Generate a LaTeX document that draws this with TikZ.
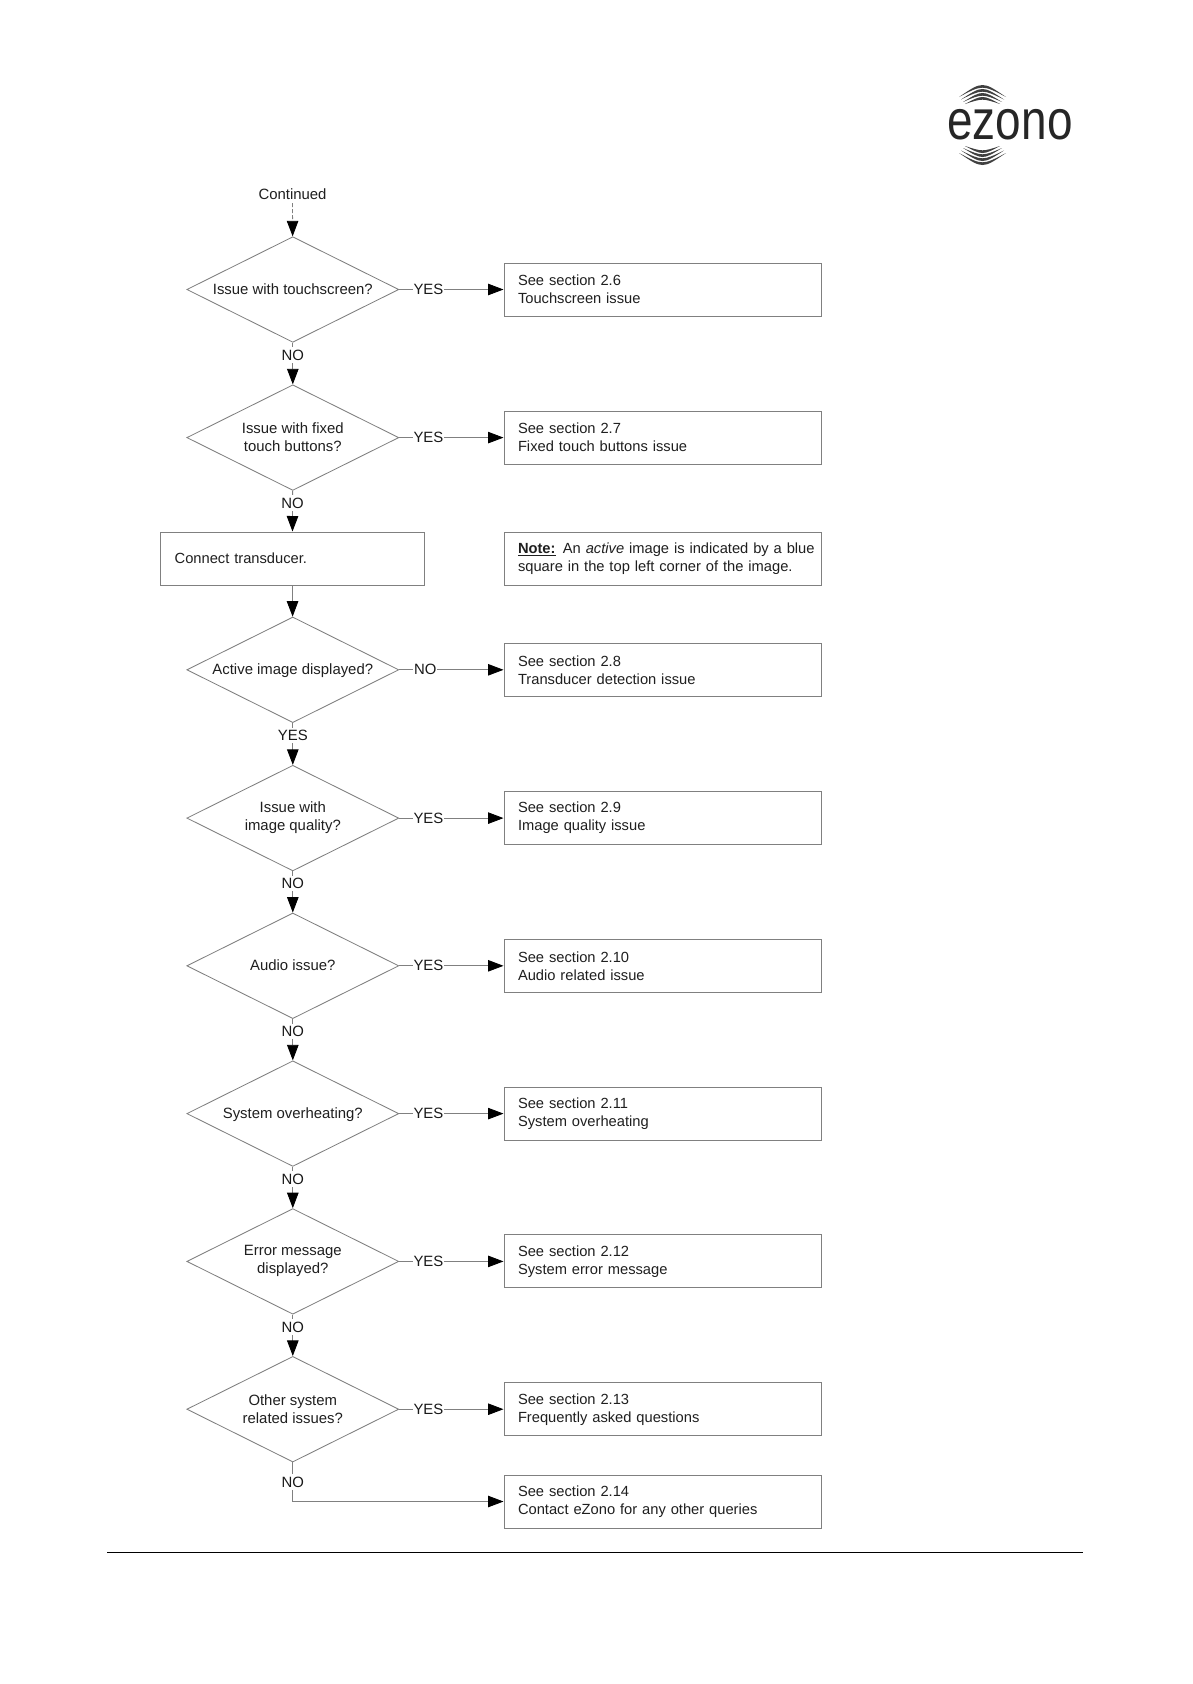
\documentclass[tikz,border=0pt]{standalone}
\usepackage{fontspec}
\usepackage{graphicx}
\setmainfont{Liberation Sans}
\usetikzlibrary{shapes.geometric,arrows.meta}
\definecolor{linegray}{gray}{0.5}
\tikzset{
  qbox/.style={diamond,draw=linegray,line width=0.85pt,minimum width=212pt,minimum height=105.6pt,aspect=2,inner sep=0pt,align=center},
  oneline/.style={text height=13pt,text depth=3.5pt},
  infobox/.style={rectangle,draw=linegray,line width=1pt,minimum width=317.5pt,text width=289.5pt,minimum height=53pt,inner xsep=14pt,inner ysep=0pt,align=left,font=\fontsize{14.7pt}{18pt}\selectfont},
  actionbox/.style={rectangle,draw=linegray,line width=1pt,minimum width=264.5pt,text width=235.5pt,minimum height=53pt,inner xsep=14.5pt,inner ysep=0pt,align=left,font=\fontsize{14.7pt}{18pt}\selectfont},
  flow/.style={draw=linegray,line width=0.85pt,-{Triangle[length=15.5pt,width=11.5pt,color=black]}},
  edgelabel/.style={fill=white,inner xsep=1pt,inner ysep=2.5pt,text=black!90},
  logoarc/.style={fill=black!75,draw=none}
}
\newcommand{\logoband}[4]{% half chord, apex y, end y, thickness
  \fill[logoarc] (982.5-#1,#3) .. controls (982.5,{(4*#2-#3)/3}) .. (982.5+#1,#3)
     .. controls (982.5,{(4*#2-#3)/3+#4}) .. cycle;}
\begin{document}
\begin{tikzpicture}[x=1pt,y=-1pt,font=\fontsize{14.9pt}{18pt}\selectfont,text=black!88]
\useasboundingbox (0,0) rectangle (1192,1684);
\fill[white] (0,0) rectangle (1192,1684);

% logo
\node[anchor=base,inner sep=0pt,text=black!85] (logo) at (1010,139)
  {\scalebox{0.82}[1]{\fontsize{56pt}{56pt}\selectfont ezono}};
\logoband{23.5}{85}{97}{3.6}
\logoband{21.5}{89}{99.5}{3.6}
\logoband{19.5}{93}{102}{3.6}
\logoband{17.5}{97}{104}{3.6}
\logoband{23.5}{165}{153}{-3.6}
\logoband{21.5}{161}{150.5}{-3.6}
\logoband{19.5}{157}{148}{-3.6}
\logoband{17.5}{153}{146}{-3.6}

% start
\node[inner xsep=0pt,inner ysep=3pt] (start) at (292.5,194.5) {Continued};

% questions
\node[qbox,oneline] (q1) at (292.8,289.5) {Issue with touchscreen?};
\node[qbox] (q2) at (292.8,437.6) {Issue with fixed\\touch buttons?};
\node[qbox,oneline] (q3) at (292.8,669.8) {Active image displayed?};
\node[qbox] (q4) at (292.8,818.1) {Issue with\\image quality?};
\node[qbox,oneline] (q5) at (292.8,965.8) {Audio issue?};
\node[qbox,oneline] (q6) at (292.8,1113.6) {System overheating?};
\node[qbox] (q7) at (292.8,1261.4) {Error message\\displayed?};
\node[qbox] (q8) at (292.8,1409.2) {Other system\\related issues?};

% action
\node[actionbox] (conn) at (292.4,558.5) {Connect transducer.};

% outcomes
\node[infobox] (a1) at (662.75,289.5) {See section 2.6\\Touchscreen issue};
\node[infobox] (a2) at (662.75,437.6) {See section 2.7\\Fixed touch buttons issue};
\node[infobox] (note) at (662.75,558.5) {\rlap{\underline{\textbf{Note:}}\hspace{0.5em}An \textit{active} image is indicated by a blue}\\square in the top left corner of the image.};
\node[infobox] (a3) at (662.75,669.8) {See section 2.8\\Transducer detection issue};
\node[infobox] (a4) at (662.75,818.1) {See section 2.9\\Image quality issue};
\node[infobox] (a5) at (662.75,965.8) {See section 2.10\\Audio related issue};
\node[infobox] (a6) at (662.75,1113.6) {See section 2.11\\System overheating};
\node[infobox] (a7) at (662.75,1261.4) {See section 2.12\\System error message};
\node[infobox] (a8) at (662.75,1409.2) {See section 2.13\\Frequently asked questions};
\node[infobox] (a9) at (662.75,1501.5) {See section 2.14\\Contact eZono for any other queries};

% vertical flow
\draw[flow,dash pattern=on 4pt off 2pt] (start) -- (q1);
\draw[flow] (q1) -- node[edgelabel,pos=.3] {NO} (q2);
\draw[flow] (q2) -- node[edgelabel,pos=.3] {NO} (conn);
\draw[flow] (conn) -- (q3);
\draw[flow] (q3) -- node[edgelabel,pos=.3] {YES} (q4);
\draw[flow] (q4) -- node[edgelabel,pos=.3] {NO} (q5);
\draw[flow] (q5) -- node[edgelabel,pos=.3] {NO} (q6);
\draw[flow] (q6) -- node[edgelabel,pos=.3] {NO} (q7);
\draw[flow] (q7) -- node[edgelabel,pos=.3] {NO} (q8);

% branches
\draw[flow] (q1) -- node[edgelabel,pos=.28] {YES} (a1);
\draw[flow] (q2) -- node[edgelabel,pos=.28] {YES} (a2);
\draw[flow] (q3) -- node[edgelabel,pos=.25] {NO} (a3);
\draw[flow] (q4) -- node[edgelabel,pos=.28] {YES} (a4);
\draw[flow] (q5) -- node[edgelabel,pos=.28] {YES} (a5);
\draw[flow] (q6) -- node[edgelabel,pos=.28] {YES} (a6);
\draw[flow] (q7) -- node[edgelabel,pos=.28] {YES} (a7);
\draw[flow] (q8) -- node[edgelabel,pos=.28] {YES} (a8);
\draw[flow] (q8) |- node[edgelabel,pos=.25] {NO} (a9);

% footer rule
\coordinate (ruleL) at (107,1552);
\coordinate (ruleR) at (1083,1552);
\draw[black,line width=1pt] (ruleL) -- (ruleR);
\end{tikzpicture}
\end{document}
